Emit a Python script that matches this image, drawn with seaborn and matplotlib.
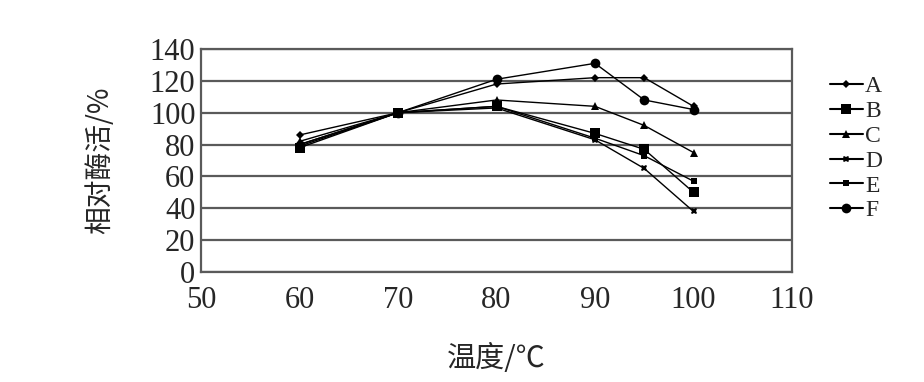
import matplotlib
matplotlib.use("Agg")
import matplotlib.pyplot as plt
import seaborn as sns
import pandas as pd

temps = [60, 70, 80, 90, 95, 100]
series_names = ["A", "B", "C", "D", "E", "F"]
A = [86, 100, 118, 122, 122, 104]
B = [78, 100, 104, 87, 77, 50]
C = [82, 100, 108, 104, 92, 75]
D = [80, 100, 103, 83, 65, 38]
E = [79, 100, 104, 84, 73, 57]
F = [80, 100, 121, 131, 108, 102]
values = [A, B, C, D, E, F]
x_ticks = [50, 60, 70, 80, 90, 100, 110]
y_ticks = [0, 20, 40, 60, 80, 100, 120, 140]

rows = []
for name, vals in zip(series_names, values):
    for t, v in zip(temps, vals):
        rows.append({"temp": t, "act": v, "series": name})
df = pd.DataFrame(rows)

sns.set_theme(style="white")
plt.rcParams["font.family"] = ["Liberation Serif", "DejaVu Serif"]

fig = plt.figure(figsize=(9.24, 3.82), dpi=100)
ax = fig.add_axes([201/924, 1-272/382, (792-201)/924, (272-49)/382])

markers = {"A": "D", "B": "s", "C": "^", "D": "X", "E": "s", "F": "o"}
sizes = {"A": 4, "B": 7, "C": 6, "D": 5, "E": 4.5, "F": 7}
palette = {n: "black" for n in series_names}

sns.lineplot(data=df, x="temp", y="act", hue="series", style="series",
             markers=markers, dashes=False, palette=palette, ax=ax,
             linewidth=1.0, markeredgewidth=0, legend=False)

for line, name in zip(ax.get_lines(), series_names):
    line.set_markersize(sizes[name])

ax.set_xlim(50, 110)
ax.set_ylim(0, 140)
ax.set_xticks(x_ticks)
ax.set_yticks(y_ticks)
ax.set_xticklabels([str(v) for v in x_ticks], fontsize=22)
ax.set_yticklabels([str(v) for v in y_ticks], fontsize=22)

grey = "#5a5a5a"
ax.yaxis.grid(True, color=grey, linewidth=1.6)
ax.xaxis.grid(False)
ax.set_axisbelow(True)
for s in ax.spines.values():
    s.set_color(grey)
    s.set_linewidth(1.6)
    s.set_visible(True)

ax.tick_params(axis="x", direction="in", length=6, width=1.4, color=grey, pad=10)
ax.tick_params(axis="y", length=0, pad=4)

ax.set_xlabel("温度/℃", fontsize=21, family=["Noto Sans CJK SC", "DejaVu Sans"], labelpad=21)
ax.set_ylabel("相对酶活/%", fontsize=20, family=["Noto Sans CJK SC", "DejaVu Sans"], labelpad=25)

from matplotlib.lines import Line2D
handles = [Line2D([0], [0], color="black", linewidth=1.5, marker=markers[n],
                  markersize=sizes[n], markeredgewidth=0) for n in series_names]
leg = fig.legend(handles, series_names, loc="upper left",
                 bbox_to_anchor=(818/924, 1-64/382), frameon=False,
                 fontsize=17, handlelength=1.4, handletextpad=0.1,
                 labelspacing=0.14, borderpad=0)

fig.savefig("out.png", dpi=100)
